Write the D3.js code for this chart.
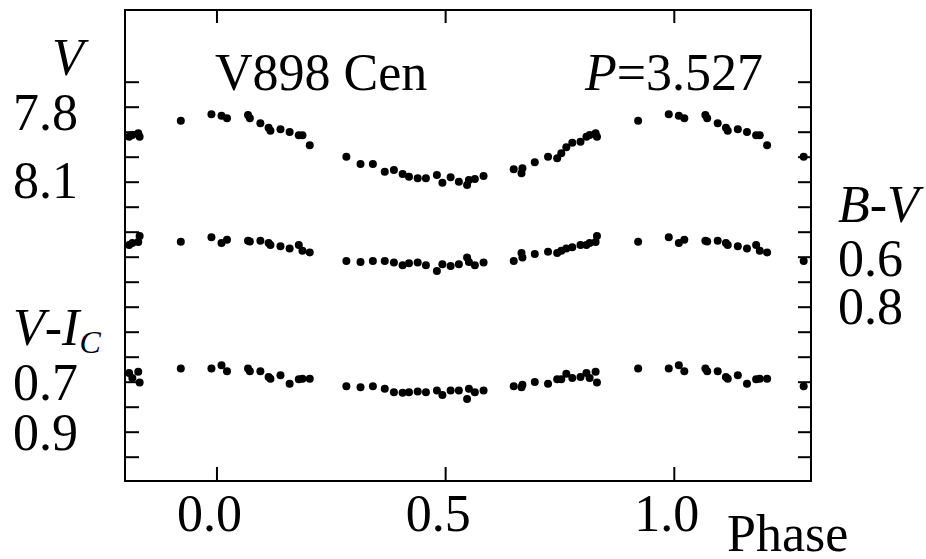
<!DOCTYPE html>
<html>
<head>
<meta charset="utf-8">
<script src="https://cdn.jsdelivr.net/npm/d3@7/dist/d3.min.js"></script>
<style>
  body { margin: 0; background: #fff; }
</style>
</head>
<body>
<div id="chart"></div>
<script>
// observations folded on P = 3.527 d (phase in [0,1))
const phase = [0.011, 0.023, 0.069, 0.073, 0.096, 0.114, 0.118, 0.140, 0.160, 0.180,
  0.188, 0.204, 0.284, 0.315, 0.342, 0.368, 0.388, 0.407, 0.421, 0.440,
  0.458, 0.482, 0.494, 0.512, 0.530, 0.548, 0.552, 0.565, 0.584, 0.650,
  0.667, 0.669, 0.696, 0.725, 0.745, 0.754, 0.765, 0.778, 0.796, 0.809,
  0.816, 0.829, 0.832, 0.922, 0.989];

const vMag = [7.836, 7.846, 7.833, 7.846, 7.866, 7.884, 7.896, 7.890, 7.901, 7.914,
  7.914, 7.954, 8.000, 8.029, 8.029, 8.060, 8.053, 8.069, 8.080, 8.086,
  8.086, 8.073, 8.104, 8.082, 8.100, 8.113, 8.093, 8.089, 8.077, 8.050,
  8.066, 8.046, 8.022, 8.000, 8.006, 7.986, 7.962, 7.944, 7.940, 7.920,
  7.913, 7.906, 7.920, 7.856, 7.830];

const bv = [0.545, 0.532, 0.536, 0.539, 0.536, 0.545, 0.553, 0.558, 0.567, 0.553,
  0.576, 0.583, 0.617, 0.621, 0.617, 0.617, 0.623, 0.634, 0.626, 0.623,
  0.634, 0.657, 0.630, 0.637, 0.630, 0.603, 0.621, 0.634, 0.623, 0.617,
  0.585, 0.603, 0.589, 0.580, 0.585, 0.576, 0.567, 0.562, 0.553, 0.553,
  0.545, 0.541, 0.517, 0.540, 0.522];

const vi = [0.634, 0.658, 0.647, 0.658, 0.658, 0.681, 0.688, 0.674, 0.708, 0.690,
  0.688, 0.688, 0.718, 0.722, 0.718, 0.728, 0.742, 0.744, 0.742, 0.739,
  0.742, 0.735, 0.753, 0.735, 0.735, 0.769, 0.728, 0.742, 0.735, 0.718,
  0.722, 0.712, 0.701, 0.708, 0.690, 0.690, 0.668, 0.685, 0.681, 0.665,
  0.685, 0.660, 0.703, 0.647, 0.647];

const phaseTicks = [0, 0.5, 1.0];
const phaseTickLabels = ['0.0', '0.5', '1.0'];
const vTickValues = d3.range(16).map(i => 7.7 + i * 0.1);

const width = 926, height = 559,
  frame = {left: 125, right: 811, top: 10, bottom: 481},
  fontFamily = 'Liberation Serif',
  fontSize = 52,
  radius = 4;

const svg = d3.select('#chart').append('svg')
  .attr('width', width)
  .attr('height', height)
  .style('font-family', fontFamily);

const x = d3.scaleLinear().domain([-0.2, 1.3]).range([frame.left, frame.right]);
// all three panels share 250 px per magnitude
const yV = d3.scaleLinear().domain([7.8, 8.1]).range([106.7, 181.7]);
const yBV = d3.scaleLinear().domain([0.6, 0.8]).range([256.7, 306.7]);
const yVI = d3.scaleLinear().domain([0.7, 0.9]).range([381.7, 431.7]);

/**
 * Repeat each observation by one cycle where it falls inside the phase window
 * @param {Array} values magnitudes or colours
 * @return {Array} points
 */
function unfold(values) {
  const pts = [];
  phase.forEach((p, i) => {
    [-1, 0, 1].forEach(k => {
      const ph = p + k;
      if (ph >= -0.2 && ph <= 1.3) pts.push({ph: ph, val: values[i]});
    });
  });
  return pts;
}

// ticks (inward)
const tickStyle = g => {
  g.select('.domain').remove();
  g.selectAll('.tick line').attr('stroke', '#000').attr('stroke-width', 2);
  g.selectAll('.tick text').remove();
};

svg.append('g')
  .attr('transform', 'translate(0,' + frame.bottom + ')')
  .call(d3.axisBottom(x).tickValues(phaseTicks).tickSize(-14).tickSizeOuter(0))
  .call(tickStyle);

svg.append('g')
  .attr('transform', 'translate(0,' + frame.top + ')')
  .call(d3.axisTop(x).tickValues(phaseTicks).tickSize(-13).tickSizeOuter(0))
  .call(tickStyle);

svg.append('g')
  .attr('transform', 'translate(' + frame.left + ',0)')
  .call(d3.axisLeft(yV).tickValues(vTickValues).tickSize(-14).tickSizeOuter(0))
  .call(tickStyle);

svg.append('g')
  .attr('transform', 'translate(' + frame.right + ',0)')
  .call(d3.axisRight(yV).tickValues(vTickValues).tickSize(-13).tickSizeOuter(0))
  .call(tickStyle);

svg.append('rect')
  .attr('x', frame.left)
  .attr('y', frame.top)
  .attr('width', frame.right - frame.left)
  .attr('height', frame.bottom - frame.top)
  .attr('fill', 'none')
  .attr('stroke', '#000')
  .attr('stroke-width', 2);

// data
[[vMag, yV], [bv, yBV], [vi, yVI]].forEach(([vals, yScale]) => {
  svg.append('g').selectAll('circle')
    .data(unfold(vals))
    .enter().append('circle')
    .attr('cx', d => x(d.ph))
    .attr('cy', d => yScale(d.val))
    .attr('r', radius)
    .attr('fill', '#000');
});

const txt = (tx, ty, s) => svg.append('text')
  .attr('x', tx).attr('y', ty)
  .attr('fill', '#000')
  .style('font-family', fontFamily)
  .style('font-size', fontSize + 'px')
  .text(s);

const span = (t, s, italic) => t.append('tspan')
  .attr('fill', '#000')
  .style('font-style', italic ? 'italic' : 'normal')
  .text(s);

// phase labels
phaseTicks.forEach((d, i) => {
  txt(x(d) - 7, 531, phaseTickLabels[i]).attr('text-anchor', 'middle');
});

txt(727, 551, 'Phase');
txt(215, 90, 'V898 Cen');

const per = txt(763, 90, null).attr('text-anchor', 'end');
span(per, 'P', true);
span(per, '=3.527', false);

// left-hand scale labels
txt(52, 75, 'V').style('font-style', 'italic');
txt(13, 130, '7.8');
txt(13, 198, '8.1');

const vic = txt(13, 345, null);
span(vic, 'V', true);
span(vic, '-', false);
span(vic, 'I', true);
span(vic, 'C', true).style('font-size', '32px').attr('dy', 8);
txt(13, 400, '0.7');
txt(13, 450, '0.9');

// right-hand scale labels
const bvl = txt(838, 222, null);
span(bvl, 'B', true);
span(bvl, '-', false);
span(bvl, 'V', true);
txt(838, 276, '0.6');
txt(838, 324, '0.8');
</script>
</body>
</html>
